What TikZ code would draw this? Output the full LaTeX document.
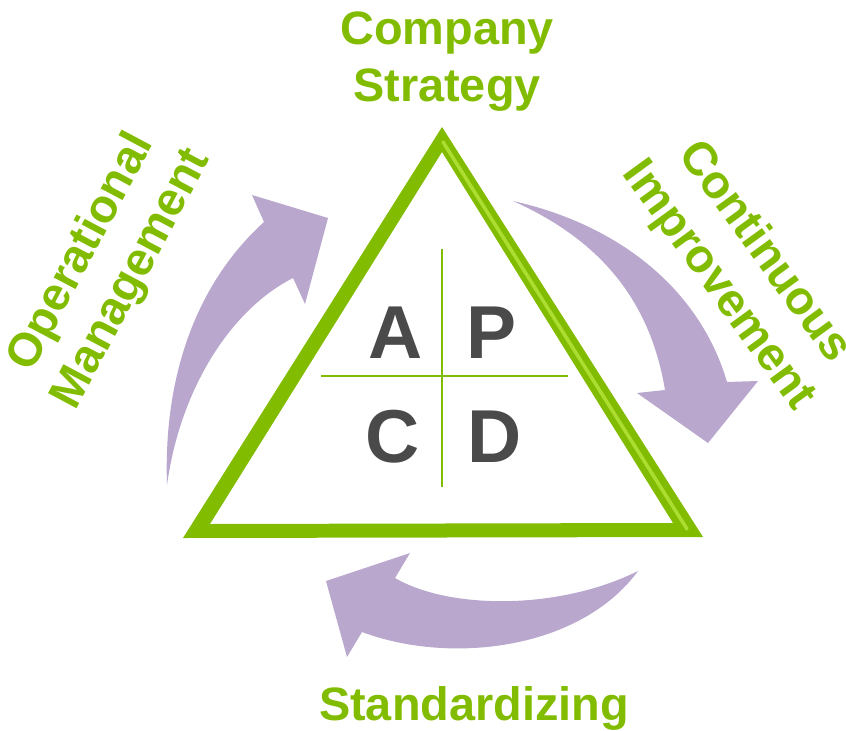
\documentclass[tikz,border=0pt]{standalone}
\usepackage{fontspec}
\setmainfont{Liberation Sans}
\usepackage{tikz}
\usetikzlibrary{positioning,calc}
\tikzset{every node/.append style={align=center}}
\definecolor{leafgreen}{RGB}{130, 188, 0}
\definecolor{lightleaf}{RGB}{172, 222, 50}
\definecolor{swooshpurple}{RGB}{185, 167, 205}
\definecolor{lettergray}{RGB}{74, 74, 74}
\tikzset{
  steplabel/.style={font=\fontsize{40pt}{48.5pt}\selectfont\bfseries, text=leafgreen, inner sep=0pt},
  quadletter/.style={font=\fontsize{64pt}{64pt}\selectfont\bfseries, text=lettergray, inner sep=0pt, anchor=base},
  swoosh/.style={fill=swooshpurple, draw=none},
  quadline/.style={draw=leafgreen, line width=1.7pt}
}

\begin{document}
\begin{tikzpicture}[x=0.03cm, y=-0.03cm]
    \useasboundingbox (0, 0) rectangle (846, 730);

    % Curved arrows
    \fill[swoosh] (167, 485) .. controls (163, 370) and (200, 280) .. (264, 222)
        -- (252, 195) -- (328, 218) -- (305, 304) -- (293, 278)
        .. controls (230, 310) and (180, 390) .. (167, 485) -- cycle;
    \fill[swoosh] (513, 201) .. controls (620, 225) and (700, 290) .. (727, 382)
        -- (758, 381) -- (708, 443) -- (637, 393) -- (665, 390)
        .. controls (650, 300) and (600, 240) .. (513, 201) -- cycle;
    \fill[swoosh] (638, 571) .. controls (560, 610) and (450, 610) .. (395, 578)
        -- (410, 553) -- (326, 581) -- (347, 657) -- (362, 632)
        .. controls (450, 665) and (580, 650) .. (638, 571) -- cycle;

    % Triangle
    \coordinate (apex) at (442, 127);
    \coordinate (left) at (183, 538);
    \coordinate (right) at (703, 537);
    \fill[leafgreen, even odd rule] (apex) -- (left) -- (right) -- cycle
        (442, 152) -- (210, 524) -- (673, 523) -- cycle;
    \draw[lightleaf, line width=3pt, line cap=round] (443, 142) -- (687, 529);

    % PDCA cross
    \draw[quadline] (442, 249) -- (442, 487);
    \draw[quadline] (321, 376) -- (568, 376);
    \node[quadletter] (act) at (396, 358) {A};
    \node[quadletter] (plan) at (491, 358) {P};
    \node[quadletter] (check) at (393, 462) {C};
    \node[quadletter] (do) at (495, 462) {D};

    % Labels
    \node[steplabel] (strategy) at (447, 62) {Company\\Strategy};
    \node[steplabel, anchor=base] (standard) at (474, 720) {Standardizing};
    \node[steplabel, rotate=62] (operational) at (107, 266) {Operational\\Management};
    \node[steplabel, rotate=-54] (continuous) at (741, 269) {Continuous\\Improvement};
\end{tikzpicture}
\end{document}
